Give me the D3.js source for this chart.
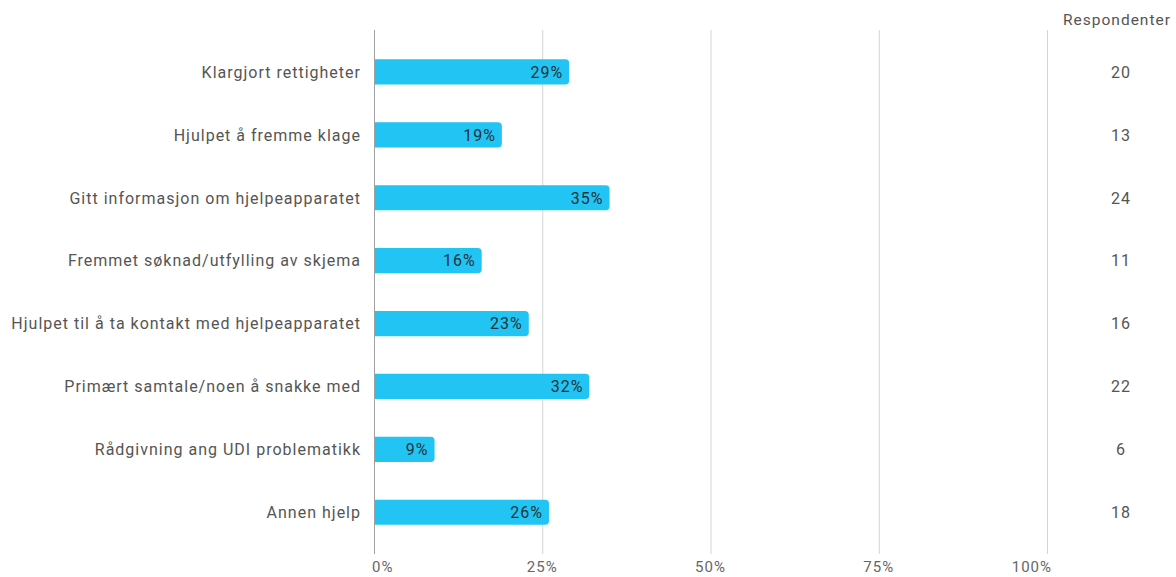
<!DOCTYPE html>
<html>
<head>
<meta charset="utf-8">
<script src="https://cdn.jsdelivr.net/npm/d3@7"></script>
<style>
  html, body { margin: 0; padding: 0; background: #fff; }
  svg { display: block; font-family: Roboto, "Noto Sans", sans-serif; }
  svg text { letter-spacing: 1px; }
</style>
</head>
<body>
<svg id="chart" width="1176" height="577"></svg>
<script>
// Hva slags hjelp ble gitt — andel og antall respondenter
const categories = [
  "Klargjort rettigheter",
  "Hjulpet å fremme klage",
  "Gitt informasjon om hjelpeapparatet",
  "Fremmet søknad/utfylling av skjema",
  "Hjulpet til å ta kontakt med hjelpeapparatet",
  "Primært samtale/noen å snakke med",
  "Rådgivning ang UDI problematikk",
  "Annen hjelp"
];
const percentValues = [29, 19, 35, 16, 23, 32, 9, 26];
const respondents = [20, 13, 24, 11, 16, 22, 6, 18];
const tickValues = [0, 25, 50, 75, 100];
const respondentHeader = "Respondenter";

const svg = d3.select("#chart");

const x = d3.scaleLinear().domain([0, 100]).range([374, 1047]);
const y = d3.scaleBand().domain(categories).range([40.5, 543.7]).paddingInner(0.6).paddingOuter(0.3);

// Gridlines
svg.append("g")
  .selectAll("line")
  .data(tickValues)
  .join("line")
  .attr("x1", d => x(d) + 0.5)
  .attr("x2", d => x(d) + 0.5)
  .attr("y1", 30)
  .attr("y2", 554)
  .attr("stroke", d => d === 0 ? "#a0a0a0" : "#d4d4d4")
  .attr("stroke-width", 1);

// Tick labels
svg.append("g")
  .selectAll("text")
  .data(tickValues)
  .join("text")
  .attr("x", d => d === 0 ? x(d) - 2 : d === 100 ? x(d) + 5 : x(d))
  .attr("y", 572)
  .attr("text-anchor", d => d === 0 ? "start" : d === 100 ? "end" : "middle")
  .attr("font-size", 15)
  .attr("fill", "#666")
  .text(d => d + "%");

// Bars with rounded right end
const r = 4;
function barPath(d, i) {
  const x0 = x(0) + 1, x1 = x(d), y0 = y(categories[i]), h = y.bandwidth();
  return `M${x0},${y0} H${x1 - r} Q${x1},${y0} ${x1},${y0 + r} V${y0 + h - r} Q${x1},${y0 + h} ${x1 - r},${y0 + h} H${x0} Z`;
}
svg.append("g")
  .selectAll("path")
  .data(percentValues)
  .join("path")
  .attr("d", barPath)
  .attr("fill", "#21c4f3");

// Value labels inside bars
svg.append("g")
  .selectAll("text")
  .data(percentValues)
  .join("text")
  .attr("x", d => x(d) - 6)
  .attr("y", (d, i) => y(categories[i]) + y.bandwidth() / 2)
  .attr("dy", "0.36em")
  .attr("text-anchor", "end")
  .attr("font-size", 16)
  .attr("fill", "#263238")
  .text(d => d + "%");

// Category labels
svg.append("g")
  .selectAll("text")
  .data(categories)
  .join("text")
  .attr("x", 361)
  .attr("y", d => y(d) + y.bandwidth() / 2)
  .attr("dy", "0.36em")
  .attr("text-anchor", "end")
  .attr("font-size", 16)
  .attr("fill", "#555")
  .text(d => d);

// Respondent column
svg.append("text")
  .attr("x", 1117)
  .attr("y", 25)
  .attr("text-anchor", "middle")
  .attr("font-size", 15.5)
  .attr("fill", "#555")
  .text(respondentHeader);

svg.append("g")
  .selectAll("text")
  .data(respondents)
  .join("text")
  .attr("x", 1121)
  .attr("y", (d, i) => y(categories[i]) + y.bandwidth() / 2)
  .attr("dy", "0.36em")
  .attr("text-anchor", "middle")
  .attr("font-size", 16)
  .attr("fill", "#555")
  .text(d => d);
</script>
</body>
</html>
